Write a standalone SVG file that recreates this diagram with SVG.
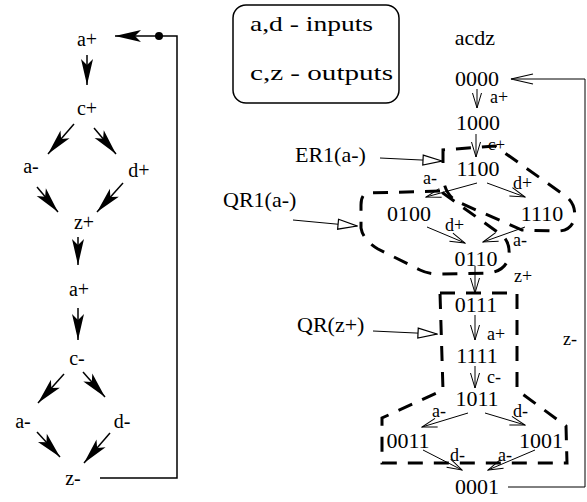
<svg xmlns="http://www.w3.org/2000/svg" width="587" height="502" viewBox="0 0 587 502">
<style>
text { font-family: "Liberation Serif", "Times New Roman", serif; fill: #000; }
.l { font-size: 20px; text-anchor: middle; }
.s { font-size: 22px; text-anchor: middle; }
.e { font-size: 18px; }
.b { font-size: 22px; }
.k { stroke: #000; stroke-width: 1.5; fill: none; }
.t { stroke: #000; stroke-width: 1; fill: none; }
.r { stroke: #000; stroke-width: 3; fill: none; stroke-dasharray: 15 11; }
</style>
<defs>
<marker id="fa" viewBox="-27 -7 28 14" refX="0" refY="0" markerWidth="28" markerHeight="14" markerUnits="userSpaceOnUse" orient="auto">
<path d="M0,0 L-26,-6 L-20,0 L-26,6 Z" fill="#000"/>
</marker>
<marker id="va" viewBox="-17 -6 18 12" refX="0" refY="0" markerWidth="18" markerHeight="12" markerUnits="userSpaceOnUse" orient="auto">
<path d="M-15,-4.5 L0,0 L-15,4.5" fill="none" stroke="#000" stroke-width="1"/>
</marker>
<marker id="vz" viewBox="-24 -7 25 14" refX="0" refY="0" markerWidth="25" markerHeight="14" markerUnits="userSpaceOnUse" orient="auto">
<path d="M-22,-5 L0,0 L-22,5" fill="none" stroke="#000" stroke-width="1.2"/>
</marker>
<marker id="tri" viewBox="-21 -7 22 14" refX="0" refY="0" markerWidth="22" markerHeight="14" markerUnits="userSpaceOnUse" orient="auto">
<path d="M-19,-5 L0,0 L-19,5 Z" fill="#fff" stroke="#000" stroke-width="1.2"/>
</marker>
</defs>
<rect width="587" height="502" fill="#fff"/>

<!-- Left STG -->
<g id="n-a1"><text class="l" x="87" y="46">a+</text></g>
<g id="n-c1"><text class="l" x="87" y="115">c+</text></g>
<g id="n-a2"><text class="l" x="31" y="173">a-</text></g>
<g id="n-d1"><text class="l" x="139" y="177">d+</text></g>
<g id="n-z1"><text class="l" x="84" y="229">z+</text></g>
<g id="n-a3"><text class="l" x="79" y="296">a+</text></g>
<g id="n-c2"><text class="l" x="77" y="365">c-</text></g>
<g id="n-a4"><text class="l" x="23" y="428">a-</text></g>
<g id="n-d2"><text class="l" x="122" y="428">d-</text></g>
<g id="n-z2"><text class="l" x="73" y="485">z-</text></g>

<!-- Legend -->
<g id="legend">
<rect x="233" y="5" width="166" height="98" rx="13" fill="none" stroke="#000" stroke-width="1.5"/>
<text class="b" x="250" y="31" textLength="123" lengthAdjust="spacingAndGlyphs">a,d - inputs</text>
<text class="b" x="250" y="80" textLength="143" lengthAdjust="spacingAndGlyphs">c,z - outputs</text>
</g>

<!-- Regions -->
<g id="region-ER1">
<path class="r" d="M443,163 L443,150 L495,146 L567,197 Q577,206 574,220 Q570,232 555,231 L522,230 L458,202 Q447,196 444,183"/>
<text class="b" x="295" y="162">ER1(a-)</text>
</g>
<g id="region-QR1">
<path class="r" d="M440,191 L368,193 Q361,194 361,205 L361,228 Q363,240 378,249 L420,270 Q428,274 440,274 L490,273 Q507,270 509,255 Q510,243 503,236 Z"/>
<text class="b" x="223" y="207">QR1(a-)</text>
</g>
<g id="region-QRz">
<path class="r" d="M440,293 L517,293 L517,390 L566,426 L567,463 L382,463 L382,418 L443,390 Z"/>
<text class="b" x="297" y="332">QR(z+)</text>
</g>

<!-- State graph -->
<g id="s-acdz"><text class="s" x="475" y="45">acdz</text></g>
<g id="s-0000"><text class="s" x="477" y="86">0000</text></g>
<g id="s-1000"><text class="s" x="478" y="130">1000</text></g>
<g id="s-1100"><text class="s" x="478" y="176">1100</text></g>
<g id="s-0100"><text class="s" x="409" y="221">0100</text></g>
<g id="s-1110"><text class="s" x="542" y="221">1110</text></g>
<g id="s-0110"><text class="s" x="476" y="266">0110</text></g>
<g id="s-0111"><text class="s" x="476" y="312">0111</text></g>
<g id="s-1111"><text class="s" x="477" y="363">1111</text></g>
<g id="s-1011"><text class="s" x="477" y="406">1011</text></g>
<g id="s-0011"><text class="s" x="408" y="448">0011</text></g>
<g id="s-1001"><text class="s" x="541" y="448">1001</text></g>
<g id="s-0001"><text class="s" x="477" y="494">0001</text></g>

<g id="connectors">
<!-- left -->
<line class="k" x1="87" y1="55" x2="87" y2="85" marker-end="url(#fa)"/>
<line class="k" x1="74" y1="124" x2="48" y2="154" marker-end="url(#fa)"/>
<line class="k" x1="94" y1="128" x2="116" y2="154" marker-end="url(#fa)"/>
<line class="k" x1="37" y1="187" x2="58" y2="212" marker-end="url(#fa)"/>
<line class="k" x1="123" y1="183" x2="97" y2="212" marker-end="url(#fa)"/>
<line class="k" x1="78" y1="237" x2="78" y2="265" marker-end="url(#fa)"/>
<line class="k" x1="78" y1="308" x2="78" y2="340" marker-end="url(#fa)"/>
<line class="k" x1="64" y1="374" x2="38" y2="403" marker-end="url(#fa)"/>
<line class="k" x1="83" y1="372" x2="105" y2="397" marker-end="url(#fa)"/>
<line class="k" x1="37" y1="432" x2="60" y2="457" marker-end="url(#fa)"/>
<line class="k" x1="110" y1="433" x2="84" y2="463" marker-end="url(#fa)"/>
<polyline class="k" points="100,478 177,478 177,36 159,36"/>
<circle cx="159" cy="36" r="4" fill="#000"/>
<line class="k" x1="159" y1="36" x2="115" y2="36" marker-end="url(#fa)"/>

<!-- region pointers -->
<line class="t" x1="380" y1="158" x2="442" y2="161" marker-end="url(#tri)"/>
<line class="t" x1="293" y1="220" x2="357" y2="226" marker-end="url(#tri)"/>
<line class="t" x1="373" y1="331" x2="437" y2="334" marker-end="url(#tri)"/>

<!-- right -->
<line class="t" x1="477" y1="89" x2="477" y2="108" marker-end="url(#va)"/>
<text class="e" x="490" y="103">a+</text>
<line class="t" x1="476" y1="134" x2="476" y2="157" marker-end="url(#va)"/>
<text class="e" x="488" y="150" style="font-size:17px">c+</text>
<line class="t" x1="477" y1="183" x2="426" y2="197" marker-end="url(#va)"/>
<text class="e" x="423" y="184">a-</text>
<line class="t" x1="487" y1="183" x2="525" y2="197" marker-end="url(#va)"/>
<text class="e" x="513" y="189">d+</text>
<line class="t" x1="427" y1="227" x2="465" y2="243" marker-end="url(#va)"/>
<text class="e" x="445" y="231">d+</text>
<line class="t" x1="525" y1="227" x2="483" y2="242" marker-end="url(#va)"/>
<text class="e" x="513" y="246">a-</text>
<line class="t" x1="475" y1="266" x2="475" y2="293" marker-end="url(#va)"/>
<text class="e" x="514" y="282">z+</text>
<line class="t" x1="475" y1="315" x2="475" y2="340" marker-end="url(#va)"/>
<text class="e" x="487" y="340">a+</text>
<line class="t" x1="475" y1="366" x2="475" y2="388" marker-end="url(#va)"/>
<text class="e" x="487" y="383">c-</text>
<line class="t" x1="468" y1="413" x2="422" y2="427" marker-end="url(#va)"/>
<text class="e" x="432" y="417">a-</text>
<line class="t" x1="485" y1="413" x2="525" y2="425" marker-end="url(#va)"/>
<text class="e" x="513" y="417">d-</text>
<line class="t" x1="423" y1="450" x2="462" y2="470" marker-end="url(#va)"/>
<text class="e" x="450" y="461">d-</text>
<line class="t" x1="535" y1="450" x2="488" y2="470" marker-end="url(#va)"/>
<text class="e" x="498" y="461">a-</text>
<polyline class="t" points="508,487 585,487 585,79 511,79" marker-end="url(#vz)"/>
<text class="e" x="563" y="345">z-</text>
</g>
</svg>
